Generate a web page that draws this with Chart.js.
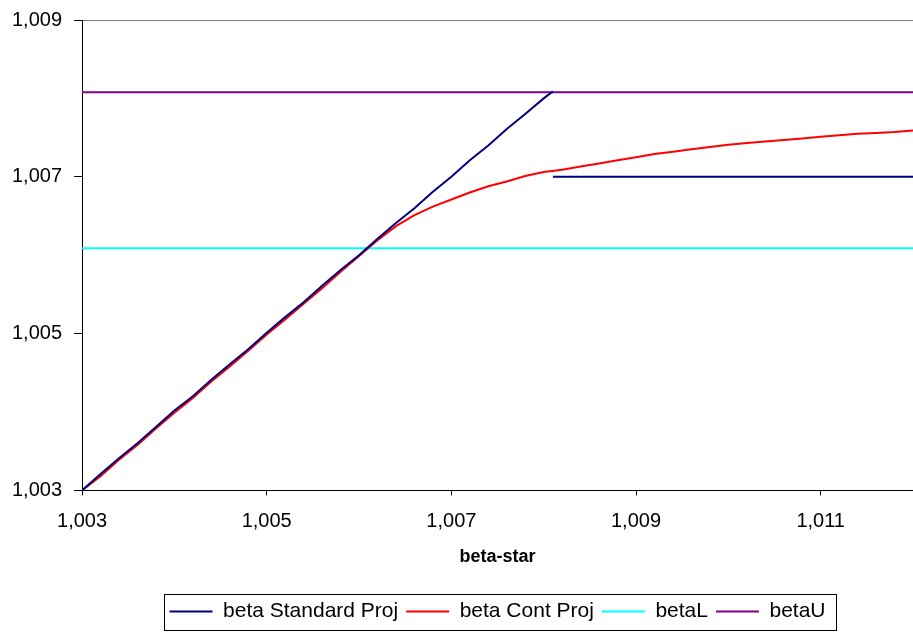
<!DOCTYPE html>
<html>
<head>
<meta charset="utf-8">
<script src="https://cdn.jsdelivr.net/npm/chart.js@4/dist/chart.umd.min.js"></script>
<style>
  html, body { margin: 0; padding: 0; background: #fff; }
  #wrap { width: 913px; height: 632px; }
</style>
</head>
<body>
<div id="wrap"><canvas id="lineChart" width="913" height="632"></canvas></div>
<script>
// beta-star values (x)
var betaStar = [1.0030, 1.0032, 1.0034, 1.0036, 1.0038, 1.0040, 1.0042, 1.0044, 1.0046, 1.0048,
  1.0050, 1.0052, 1.0054, 1.0056, 1.0058, 1.0060, 1.0062, 1.0064, 1.0066, 1.0068,
  1.0070, 1.0072, 1.0074, 1.0076, 1.0078, 1.0080, 1.0082, 1.0084, 1.0086, 1.0088,
  1.0090, 1.0092, 1.0094, 1.0096, 1.0098, 1.0100, 1.0102, 1.0104, 1.0106, 1.0108,
  1.0110, 1.0112, 1.0114, 1.0116, 1.0118, 1.0120];

// beta Standard Proj (own x list, breaks at 1.0081)
var stdX = [1.0030, 1.0032, 1.0034, 1.0036, 1.0038, 1.0040, 1.0042, 1.0044, 1.0046, 1.0048,
  1.0050, 1.0052, 1.0054, 1.0056, 1.0058, 1.0060, 1.0062, 1.0064, 1.0066, 1.0068,
  1.0070, 1.0072, 1.0074, 1.0076, 1.0078, 1.0080, 1.0081, 1.0081, 1.0081, 1.0120];
var stdY = [1.00300, 1.00321, 1.00341, 1.00360, 1.00381, 1.00402, 1.00420, 1.00441, 1.00461, 1.00480,
  1.00501, 1.00521, 1.00540, 1.00561, 1.00581, 1.00600, 1.00621, 1.00641, 1.00660, 1.00681,
  1.00700, 1.00721, 1.00740, 1.00761, 1.00780, 1.00800, 1.00809, null, 1.00700, 1.00700];

// beta Cont Proj
var contY = [1.00300, 1.00318, 1.00339, 1.00358, 1.00379, 1.00399, 1.00418, 1.00439, 1.00458, 1.00478,
  1.00499, 1.00518, 1.00538, 1.00558, 1.00579, 1.00599, 1.00619, 1.00637, 1.00651, 1.00662,
  1.00671, 1.00680, 1.00688, 1.00694, 1.00701, 1.00706, 1.00709, 1.00713, 1.00717, 1.00721,
  1.00725, 1.00729, 1.00732, 1.00735, 1.00738, 1.00741, 1.00743, 1.00745, 1.00747, 1.00749,
  1.00751, 1.00753, 1.00755, 1.00756, 1.00757, 1.00759];

var betaL = 1.00609;
var betaU = 1.00808;
var xRange = [1.003, 1.012];

var xTicks = [1.003, 1.005, 1.007, 1.009, 1.011];
var yTicks = [1.003, 1.005, 1.007, 1.009];

var seriesNames = ['beta Standard Proj', 'beta Cont Proj', 'betaL', 'betaU'];
var seriesColors = ['#000080', '#ff0000', '#00ffff', '#800080'];

var fontFamily = 'Liberation Sans, Arial, sans-serif';

function toPoints(xs, ys) {
  return xs.map(function (x, i) { return { x: x, y: ys[i] }; });
}

function fmt(v) {
  return v.toFixed(3).replace('.', ',');
}

// centre the legend under the plot area and frame it
var legendBox = {
  id: 'legendBox',
  afterLayout: function (chart) {
    var lg = chart.legend;
    var mid = (chart.chartArea.left + chart.chartArea.right) / 2;
    var shift = mid - (lg.left + lg.right) / 2;
    lg.left += shift;
    lg.right += shift;
  },
  afterDraw: function (chart) {
    var boxes = chart.legend.legendHitBoxes;
    if (!boxes || !boxes.length) return;
    var left = Math.min.apply(null, boxes.map(function (b) { return b.left; }));
    var right = Math.max.apply(null, boxes.map(function (b) { return b.left + b.width; }));
    var mid = boxes[0].top + boxes[0].height / 2;
    var ctx = chart.ctx;
    ctx.save();
    ctx.strokeStyle = '#000';
    ctx.lineWidth = 1;
    ctx.strokeRect(Math.round(left - 6) + 0.5, Math.round(mid - 18) + 0.5,
      Math.round(right - left + 16), 36);
    ctx.restore();
  }
};

var ctxL = document.getElementById('lineChart').getContext('2d');
var myChart = new Chart(ctxL, {
  type: 'scatter',
  data: {
    datasets: [
      { label: seriesNames[0], data: toPoints(stdX, stdY), borderColor: seriesColors[0] },
      { label: seriesNames[1], data: toPoints(betaStar, contY), borderColor: seriesColors[1] },
      { label: seriesNames[2], data: toPoints(xRange, [betaL, betaL]), borderColor: seriesColors[2] },
      { label: seriesNames[3], data: toPoints(xRange, [betaU, betaU]), borderColor: seriesColors[3] }
    ].map(function (d) {
      d.showLine = true;
      d.borderWidth = 2;
      d.pointRadius = 0;
      d.pointHoverRadius = 0;
      d.tension = 0;
      d.spanGaps = false;
      d.backgroundColor = d.borderColor;
      return d;
    })
  },
  options: {
    responsive: false,
    animation: false,
    layout: { padding: { left: 0, right: 0, top: 0, bottom: 0 } },
    plugins: {
      tooltip: { enabled: false },
      legend: {
        position: 'bottom',
        labels: {
          color: '#000',
          font: { family: fontFamily, size: 21 },
          boxWidth: 43,
          boxHeight: 2,
          padding: 8,
          generateLabels: function (chart) {
            return chart.data.datasets.map(function (d, i) {
              return { text: d.label, fillStyle: d.borderColor, strokeStyle: d.borderColor, lineWidth: 0, datasetIndex: i };
            });
          }
        }
      }
    },
    scales: {
      x: {
        type: 'linear',
        min: xRange[0],
        max: xRange[1],
        afterBuildTicks: function (axis) { axis.ticks = xTicks.map(function (v) { return { value: v }; }); },
        ticks: {
          color: '#000',
          padding: 14,
          maxRotation: 0,
          font: { family: fontFamily, size: 20 },
          callback: function (v) { return fmt(v); }
        },
        grid: { drawOnChartArea: false, tickLength: 5, color: '#000' },
        border: { color: '#000', width: 1 },
        title: {
          display: true,
          text: 'beta-star',
          color: '#000',
          font: { family: fontFamily, size: 18, weight: 'bold' },
          padding: { top: -1, bottom: 25 }
        }
      },
      y: {
        type: 'linear',
        min: 1.003,
        max: 1.009,
        afterBuildTicks: function (axis) { axis.ticks = yTicks.map(function (v) { return { value: v }; }); },
        ticks: {
          color: '#000',
          padding: 12,
          font: { family: fontFamily, size: 20, lineHeight: 0.8 },
          callback: function (v) { return fmt(v); }
        },
        grid: {
          tickLength: 8,
          tickColor: '#000',
          color: function (c) { return (c.tick && Math.abs(c.tick.value - 1.009) < 1e-9) ? '#808080' : 'rgba(0,0,0,0)'; }
        },
        border: { color: '#000', width: 1 }
      }
    }
  },
  plugins: [legendBox]
});
</script>
</body>
</html>
